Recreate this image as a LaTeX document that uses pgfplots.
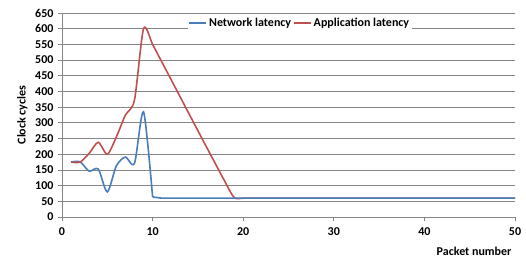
\documentclass[border=0pt]{standalone}
\usepackage{pgfplots}
\pgfplotsset{compat=1.18}
\usepackage{fontspec}
\setmainfont{Carlito}
\definecolor{netblue}{RGB}{74,126,187}
\definecolor{appred}{RGB}{192,80,77}
\definecolor{gridgray}{RGB}{134,134,134}
\newcommand{\lblfont}{\fontsize{12}{14}\selectfont\bfseries}
\begin{document}
\begin{tikzpicture}
\useasboundingbox (-62pt,-49pt) rectangle (464pt,217pt);
\begin{axis}[
  scale only axis,
  width=453pt, height=204pt,
  xmin=0, xmax=50, ymin=0, ymax=650,
  xtick={0,10,20,30,40,50},
  ytick={0,50,...,650},
  axis lines=left,
  axis line style={-, draw=gridgray, line width=0.8pt},
  ymajorgrids,
  grid style={draw=gridgray, line width=0.8pt},
  tick style={draw=gridgray, line width=0.8pt},
  major tick length=4pt,
  xtick align=outside, ytick align=outside,
  /pgf/number format/assume math mode=true,
  ticklabel style={font=\lblfont},
  yticklabel style={xshift=-1pt},
  xticklabel style={yshift=-3pt},
  ylabel={Clock cycles},
  ylabel style={font=\lblfont, at={(axis description cs:0,0.5)}, anchor=south, yshift=31pt},
  xlabel={Packet number},
  xlabel style={font=\lblfont, at={(axis description cs:1,0)}, anchor=north east, yshift=-27pt},
  legend columns=2,
  legend style={at={(axis description cs:0.525,0.99)}, anchor=north, draw=none, fill=white, font=\lblfont, inner sep=1pt},
  legend cell align=left,
  legend image code/.code={\draw[#1] (0pt,0pt) -- (17pt,0pt);},
  clip=false,
]
\addplot[netblue, line width=1.6pt, smooth, tension=0.45] coordinates {
(1,175) (2,176) (3,146) (4,153) (5,80) (6,163) (7,191) (8,171) (9,335) (10,64)
};
\addlegendentry{Network latency\hspace{10pt}}
\addplot[appred, line width=1.6pt, smooth, tension=0.45] coordinates {
(1,175) (2,175) (3,203) (4,238) (5,200) (6,255) (7,325) (8,373) (9,600) (10,550) (11,495) (12,440) (13,385) (14,330) (15,275) (16,220) (17,166) (18,112) (19,62) (20,60) (21,60) (30,60) (40,60) (50,60)
};
\addlegendentry{Application latency}
\addplot[netblue, line width=1.6pt, forget plot] coordinates {
(10,64) (11,60) (12,60) (20,60) (30,60) (40,60) (50,60)
};
\end{axis}
\end{tikzpicture}
\end{document}
